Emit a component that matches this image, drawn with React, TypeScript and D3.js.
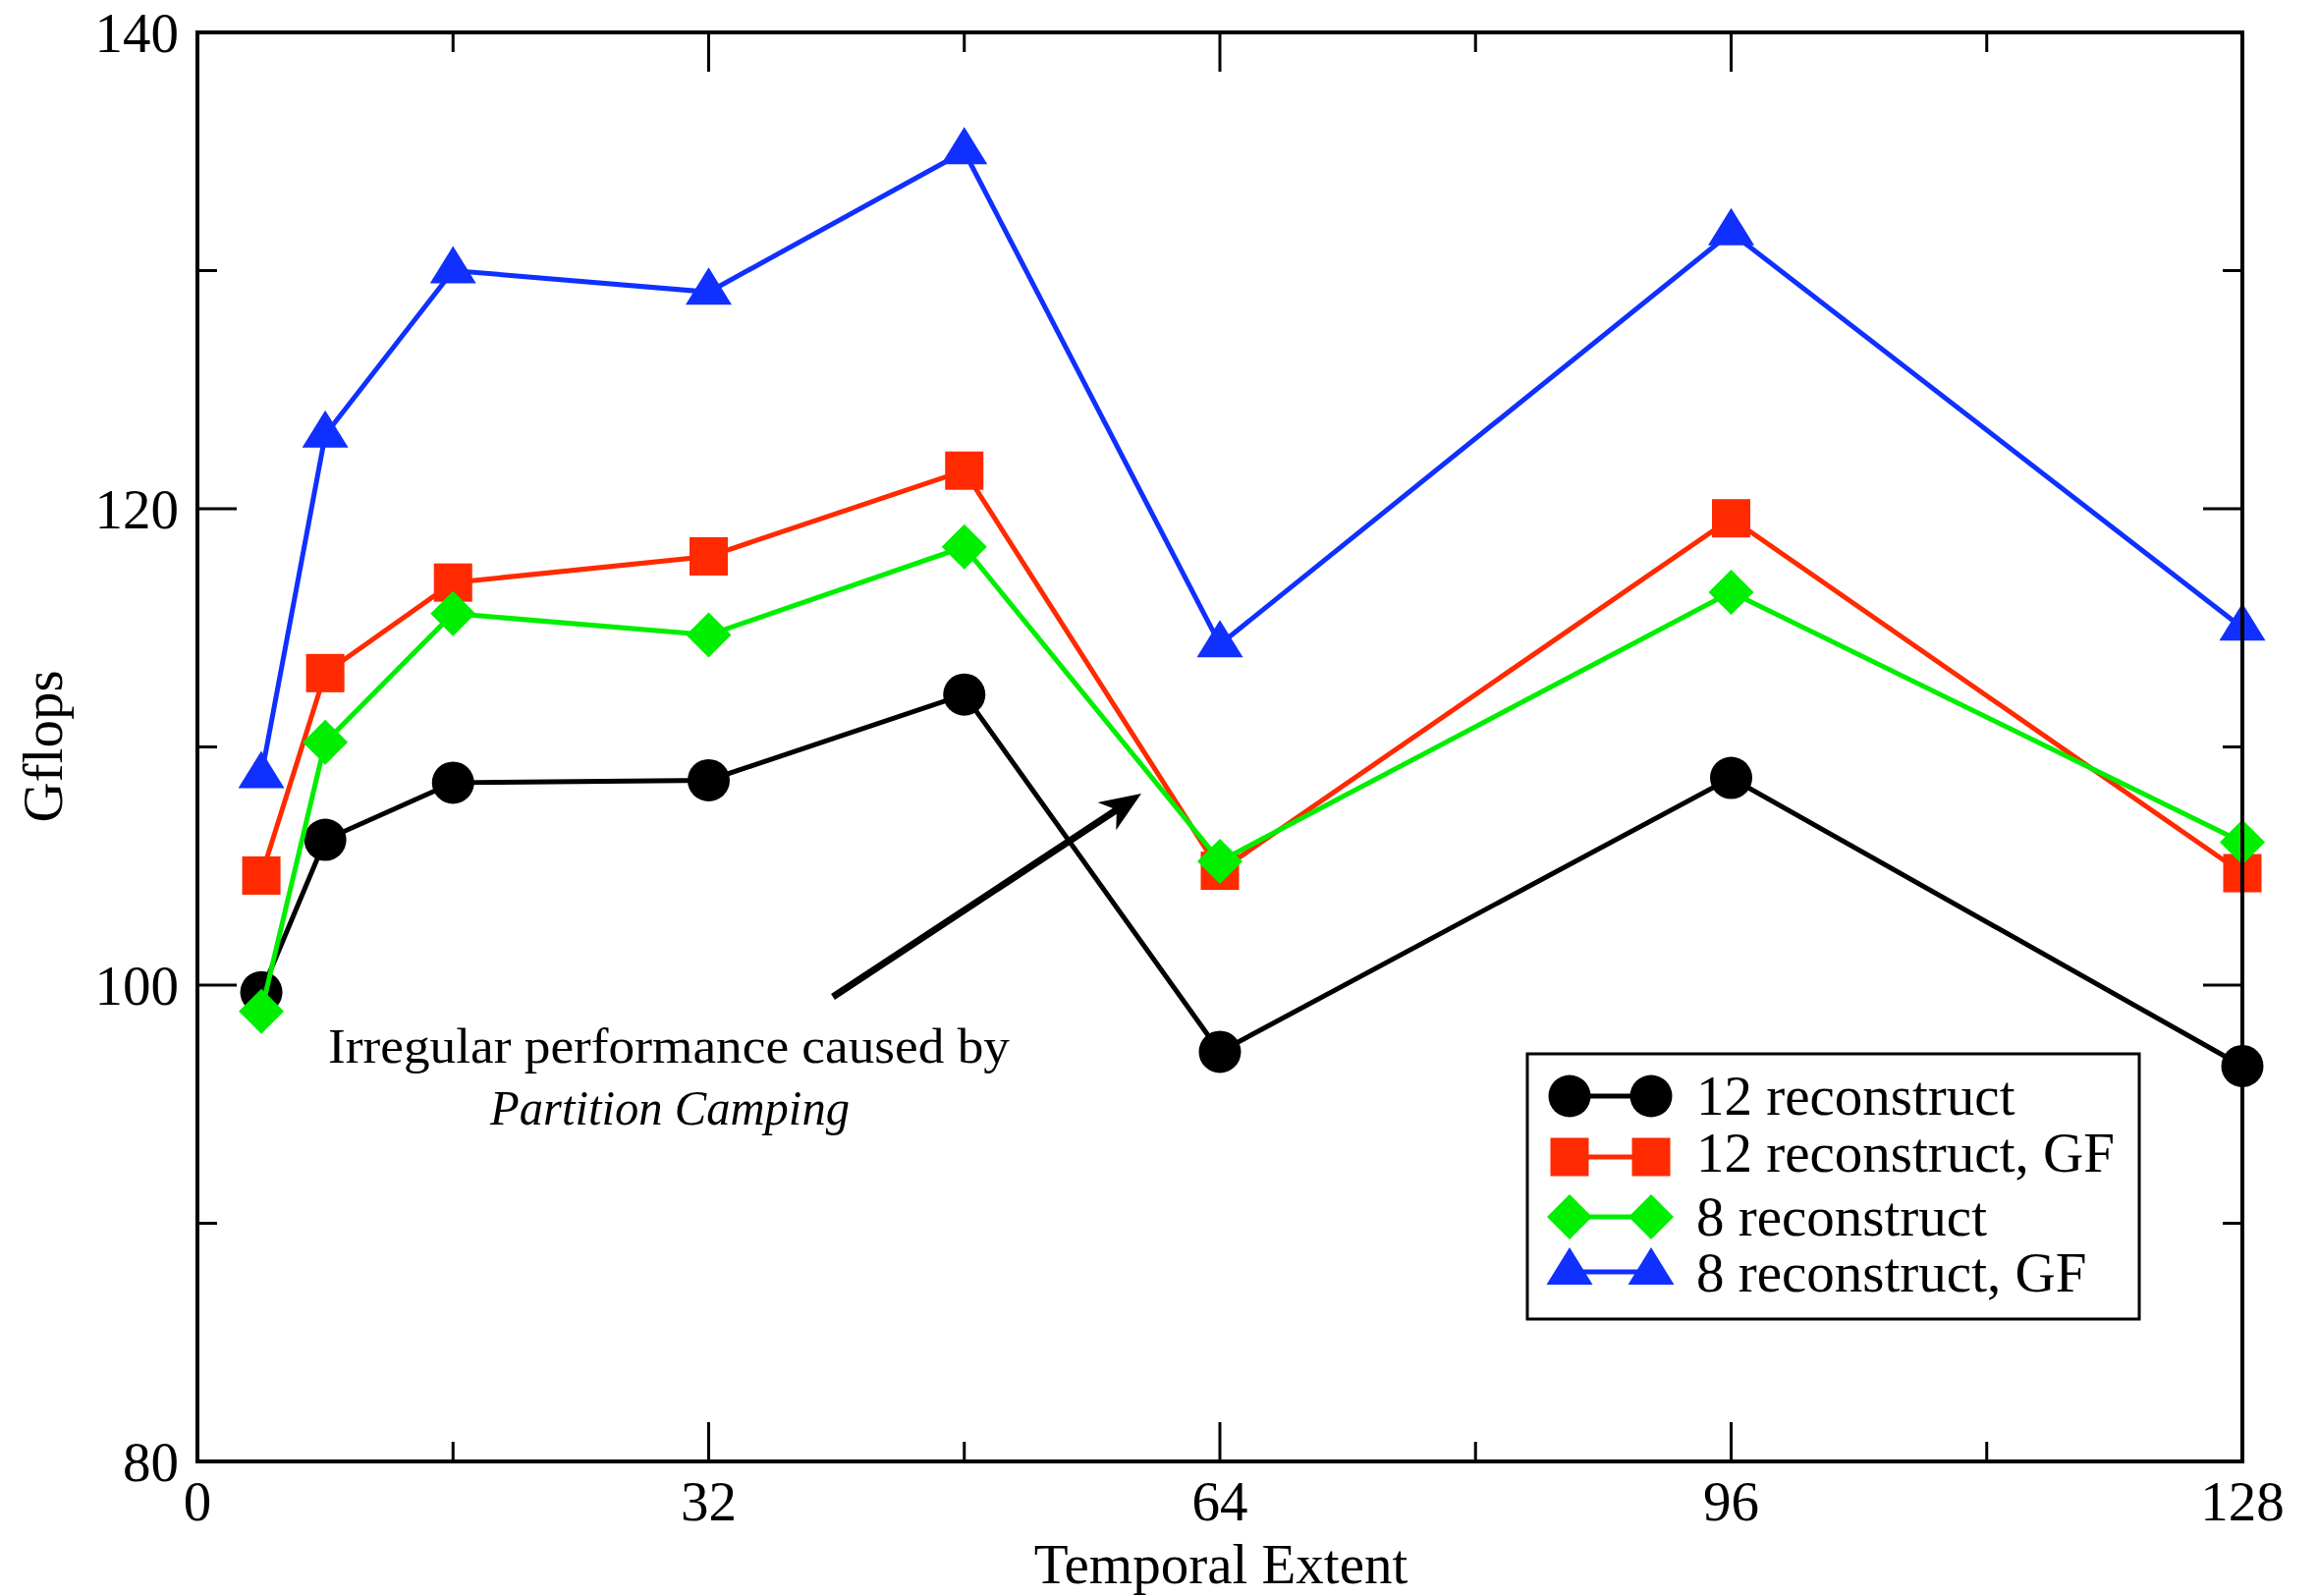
import React from "react";
import * as d3 from "d3";

const xValues = [4, 8, 16, 32, 48, 64, 96, 128];
const black12 = [99.7, 106.1, 108.5, 108.6, 112.2, 97.2, 108.7, 96.6];
const red12GF = [104.6, 113.1, 116.9, 118.0, 121.6, 104.8, 119.6, 104.7];
const green8 = [98.9, 110.2, 115.6, 114.7, 118.4, 105.2, 116.5, 106.0];
const blue8GF = [108.8, 123.1, 130.0, 129.1, 135.0, 114.3, 131.6, 115.0];
const seriesNames = ["12 reconstruct", "12 reconstruct, GF", "8 reconstruct", "8 reconstruct, GF"];
const xMajorTicks = [0, 32, 64, 96, 128];
const xMinorTicks = [16, 48, 80, 112];
const yMajorTicks = [80, 100, 120, 140];
const yMinorTicks = [90, 110, 130];

const W = 2360;
const H = 1625;
const L = 201, R = 2283, T = 33, B = 1488;
const FONT = "'Liberation Serif', 'Times New Roman', serif";

const series = [
  { name: seriesNames[0], values: black12, color: "#000000", shape: "circle" },
  { name: seriesNames[1], values: red12GF, color: "#ff2a00", shape: "square" },
  { name: seriesNames[2], values: green8, color: "#00ee00", shape: "diamond" },
  { name: seriesNames[3], values: blue8GF, color: "#1030ff", shape: "triangle" },
];

function Marker({ shape, x, y, color }: { shape: string; x: number; y: number; color: string }) {
  if (shape === "circle") return <circle cx={x} cy={y} r={21.5} fill={color} />;
  if (shape === "square") return <rect x={x - 19.5} y={y - 19.5} width={39} height={39} fill={color} />;
  if (shape === "diamond")
    return <path d={`M${x},${y - 23}L${x + 23},${y}L${x},${y + 23}L${x - 23},${y}Z`} fill={color} />;
  return <path d={`M${x},${y - 25}L${x + 23.5},${y + 13}L${x - 23.5},${y + 13}Z`} fill={color} />;
}

export default function App() {
  const x = d3.scaleLinear().domain([0, 128]).range([L, R]);
  const y = d3.scaleLinear().domain([80, 140]).range([B, T]);
  const line = d3
    .line<[number, number]>()
    .x((d) => x(d[0]))
    .y((d) => y(d[1]));

  const legendRows = [
    { my: 1116, ty: 1135 },
    { my: 1178, ty: 1193 },
    { my: 1239, ty: 1258 },
    { my: 1295, ty: 1315 },
  ];

  // arrow geometry
  const ax0 = 848, ay0 = 1015, ax1 = 1162, ay1 = 808;
  const ang = Math.atan2(ay1 - ay0, ax1 - ax0);
  const hl = 42, hw = 17, notch = 30;
  const px = (d: number, s: number) => [ax1 - d * Math.cos(ang) - s * Math.sin(ang), ay1 - d * Math.sin(ang) + s * Math.cos(ang)];
  const p1 = px(hl, hw), p2 = px(notch, 0), p3 = px(hl, -hw), pe = px(notch, 0);

  return (
    <svg width={W} height={H} style={{ position: "absolute", left: 0, top: 0, background: "#fff" }} fontFamily={FONT}>
      <rect x={0} y={0} width={W} height={H} fill="#fff" />
      {/* series */}
      {series.map((s) => (
        <g key={s.name}>
          <path
            d={line(xValues.map((xv, i) => [xv, s.values[i]] as [number, number])) || ""}
            fill="none"
            stroke={s.color}
            strokeWidth={5}
            strokeLinejoin="miter"
          />
          {xValues.map((xv, i) => (
            <Marker key={i} shape={s.shape} x={x(xv)} y={y(s.values[i])} color={s.color} />
          ))}
        </g>
      ))}
      {/* frame */}
      <rect x={L} y={T} width={R - L} height={B - T} fill="none" stroke="#000" strokeWidth={4} />
      {/* ticks */}
      {xMajorTicks.map((t) => (
        <g key={"xM" + t}>
          <line x1={x(t)} x2={x(t)} y1={B} y2={B - 40} stroke="#000" strokeWidth={3} />
          <line x1={x(t)} x2={x(t)} y1={T} y2={T + 40} stroke="#000" strokeWidth={3} />
          <text x={x(t)} y={1548} fontSize={57} textAnchor="middle">{t}</text>
        </g>
      ))}
      {xMinorTicks.map((t) => (
        <g key={"xm" + t}>
          <line x1={x(t)} x2={x(t)} y1={B} y2={B - 20} stroke="#000" strokeWidth={3} />
          <line x1={x(t)} x2={x(t)} y1={T} y2={T + 20} stroke="#000" strokeWidth={3} />
        </g>
      ))}
      {yMajorTicks.map((t) => (
        <g key={"yM" + t}>
          <line x1={L} x2={L + 40} y1={y(t)} y2={y(t)} stroke="#000" strokeWidth={3} />
          <line x1={R} x2={R - 40} y1={y(t)} y2={y(t)} stroke="#000" strokeWidth={3} />
          <text x={182} y={y(t) + 19.5} fontSize={57} textAnchor="end">{t}</text>
        </g>
      ))}
      {yMinorTicks.map((t) => (
        <g key={"ym" + t}>
          <line x1={L} x2={L + 20} y1={y(t)} y2={y(t)} stroke="#000" strokeWidth={3} />
          <line x1={R} x2={R - 20} y1={y(t)} y2={y(t)} stroke="#000" strokeWidth={3} />
        </g>
      ))}
      {/* axis titles */}
      <text x={1243} y={1612} fontSize={57} textAnchor="middle">Temporal Extent</text>
      <text transform={`translate(63,760) rotate(-90)`} fontSize={57} textAnchor="middle">Gflops</text>
      {/* annotation */}
      <text x={681} y={1082} fontSize={51} textAnchor="middle" textLength={694} lengthAdjust="spacingAndGlyphs">
        Irregular performance caused by
      </text>
      <text x={682} y={1145} fontSize={51} fontStyle="italic" textAnchor="middle" textLength={366} lengthAdjust="spacingAndGlyphs">
        Partition Camping
      </text>
      <line x1={ax0} y1={ay0} x2={pe[0]} y2={pe[1]} stroke="#000" strokeWidth={7} />
      <path d={`M${ax1},${ay1}L${p1[0]},${p1[1]}L${p2[0]},${p2[1]}L${p3[0]},${p3[1]}Z`} fill="#000" />
      {/* legend */}
      <rect x={1555} y={1073} width={623} height={270} fill="#fff" stroke="#000" strokeWidth={3} />
      {series.map((s, i) => (
        <g key={"lg" + i}>
          <line x1={1598} x2={1681} y1={legendRows[i].my} y2={legendRows[i].my} stroke={s.color} strokeWidth={5} />
          <Marker shape={s.shape} x={1598} y={legendRows[i].my} color={s.color} />
          <Marker shape={s.shape} x={1681} y={legendRows[i].my} color={s.color} />
          <text x={1727} y={legendRows[i].ty} fontSize={57}>{s.name}</text>
        </g>
      ))}
    </svg>
  );
}
